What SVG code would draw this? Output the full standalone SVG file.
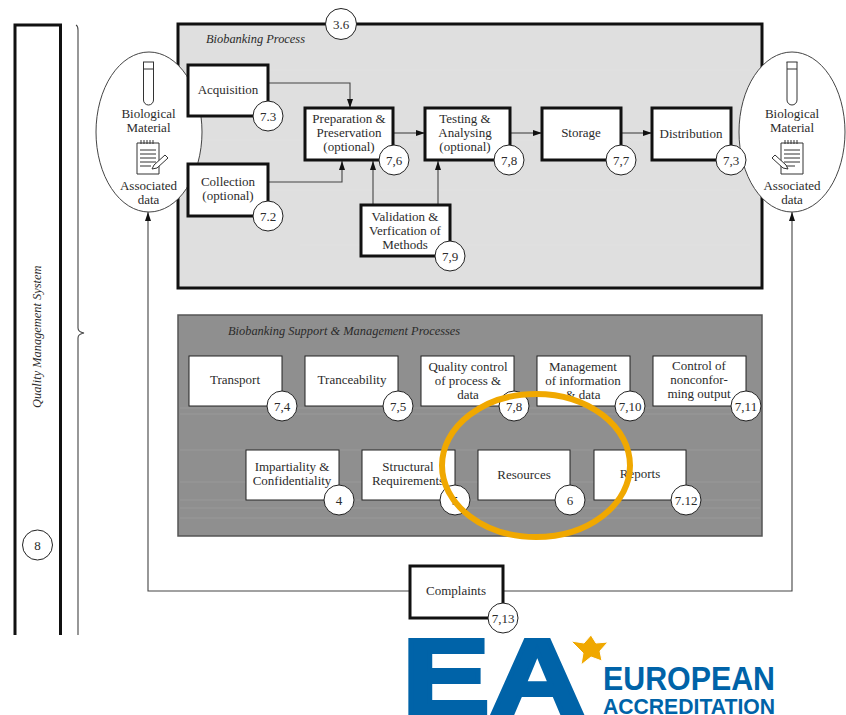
<svg xmlns="http://www.w3.org/2000/svg" width="846" height="715" viewBox="0 0 846 715">
<style>
text{font-family:"Liberation Serif","DejaVu Serif",serif;font-size:13px;fill:#2b2b2b;text-anchor:middle}
.t{font-style:italic;text-anchor:start;font-size:12.4px}
.n{fill:#fff;stroke:#111;stroke-width:3}
.s{fill:#fff;stroke:#222;stroke-width:1}
.c{fill:#fff;stroke:#222;stroke-width:1}
.l{fill:none;stroke:#444;stroke-width:1.1}
.e{fill:#fff;stroke:#444;stroke-width:1}
.k{fill:none;stroke:#333;stroke-width:1}
.w{fill:none;stroke:#fff;stroke-width:1;opacity:.1}
.b{font-family:"Liberation Sans",sans-serif;font-weight:700;fill:#0063a8;text-anchor:start}
</style>
<defs>
<marker id="a" markerUnits="userSpaceOnUse" markerWidth="10" markerHeight="8" refX="9" refY="4" orient="auto"><path d="M0 1L9 4L0 7z" fill="#111"/></marker>
<g id="tube"><path class="k" d="M-5.500 0H5.500M-5 0V38a5 5 0 0 0 10 0V0M-5 7H5"/></g>
<g id="pad"><path d="M-11 0H11V31H-11z" fill="#fff" stroke="#333"/><path class="k" d="M-7-3V1M-4-3V1M-1-3V1M2-3V1M5-3V1M-8 7H8M-8 11H8M-8 15H8M-8 19H8M-8 23H3"/></g>
</defs>
<g id="qms"><rect x="15" y="25" width="45.500" height="700" fill="#fff" stroke="#111" stroke-width="3"/>
<rect x="0" y="635" width="100" height="80" fill="#fff"/>
<text class="t" transform="translate(41 408) rotate(-90)">Quality Management System</text>
<circle class="c" cx="37.500" cy="545" r="15"/><text x="37.500" y="549.500">8</text></g>
<path id="brace" class="l" d="M76 25Q78 26 78 30V328Q78 332 84 333Q78 334 78 338V635"/>
<g id="process"><rect x="178" y="24" width="584" height="264" fill="#dfdfdf" stroke="#111" stroke-width="3"/>
<path class="w" d="M190 70H750M200 140H760M185 190H740M300 245H750"/>
<circle class="c" cx="341" cy="24" r="15.500"/><text x="341" y="28.500">3.6</text>
<text class="t" x="206" y="43">Biobanking Process</text></g>
<g id="support"><rect x="178" y="315" width="584" height="221" fill="#8f8f8f" stroke="#555" stroke-width="1.500"/>
<path class="w" d="M180 408H760M180 414H760M180 450H760M180 482H760M180 500H760M180 508H760M180 518H760"/>
<text class="t" x="228" y="335">Biobanking Support &amp; Management Processes</text></g>
<g id="material-left"><ellipse class="e" cx="149" cy="132" rx="53" ry="80"/><use href="#tube" x="148.500" y="62"/><text x="148.500" y="118">Biological</text><text x="148.500" y="132">Material</text><use href="#pad" x="148" y="143"/><path d="M154 165L165 155L168 158L157 168L152 169z" fill="#fff" stroke="#333"/><text x="148.500" y="190">Associated</text><text x="148.500" y="204">data</text></g>
<g id="material-right"><ellipse class="e" cx="792" cy="132" rx="53" ry="80"/><use href="#tube" x="792" y="62"/><text x="792" y="118">Biological</text><text x="792" y="132">Material</text><use href="#pad" x="792" y="143"/><path d="M786 165L775 155L772 158L783 168L788 169z" fill="#fff" stroke="#333"/><text x="792" y="190">Associated</text><text x="792" y="204">data</text></g>
<g id="connectors">
<path class="l" marker-end="url(#a)" d="M268 83H350V108"/>
<path class="l" marker-end="url(#a)" d="M268 182H342V161"/>
<path class="l" marker-end="url(#a)" d="M373 205V161"/>
<path class="l" marker-end="url(#a)" d="M438 205V161"/>
<path class="l" marker-end="url(#a)" d="M393 133H425"/>
<path class="l" marker-end="url(#a)" d="M510 133H542"/>
<path class="l" marker-end="url(#a)" d="M621 133H652"/>
<path class="l" marker-end="url(#a)" d="M410 591H148V212"/>
<path class="l" marker-end="url(#a)" d="M503 591H792V212"/>
</g>
<g id="acquisition"><rect class="n" x="188" y="65" width="80" height="51"/><text x="228" y="94">Acquisition</text><circle class="c" cx="268" cy="116" r="15"/><text x="268" y="121">7.3</text></g>
<g id="collection"><rect class="n" x="188" y="164" width="80" height="52"/><text x="228" y="186">Collection</text><text x="228" y="200">(optional)</text><circle class="c" cx="268" cy="216" r="15"/><text x="268" y="221">7.2</text></g>
<g id="preparation"><rect class="n" x="305" y="108" width="88" height="52"/><text x="349" y="123">Preparation &amp;</text><text x="349" y="137">Preservation</text><text x="349" y="151">(optional)</text><circle class="c" cx="394" cy="160" r="15"/><text x="394" y="165">7,6</text></g>
<g id="testing"><rect class="n" x="425" y="108" width="85" height="52"/><text x="465" y="123">Testing &amp;</text><text x="465" y="137">Analysing</text><text x="465" y="151">(optional)</text><circle class="c" cx="509" cy="160" r="15"/><text x="509" y="165">7,8</text></g>
<g id="storage"><rect class="n" x="542" y="108" width="79" height="52"/><text x="581" y="137">Storage</text><circle class="c" cx="621" cy="160" r="15"/><text x="621" y="165">7,7</text></g>
<g id="distribution"><rect class="n" x="652" y="108" width="79" height="52"/><text x="691" y="138">Distribution</text><circle class="c" cx="731" cy="160" r="15"/><text x="731" y="165">7,3</text></g>
<g id="validation"><rect class="n" x="361" y="205" width="89" height="51"/><text x="405" y="221">Validation &amp;</text><text x="405" y="235">Verfication of</text><text x="405" y="249">Methods</text><circle class="c" cx="450" cy="256" r="15"/><text x="450" y="261">7,9</text></g>
<g id="transport"><rect class="s" x="189" y="356" width="93" height="50"/><text x="235" y="384">Transport</text><circle class="c" cx="282" cy="406" r="15"/><text x="282" y="411">7,4</text></g>
<g id="traceability"><rect class="s" x="305" y="356" width="93" height="50"/><text x="352" y="384">Tranceability</text><circle class="c" cx="398" cy="406" r="15"/><text x="398" y="411">7,5</text></g>
<g id="quality"><rect class="s" x="421" y="356" width="93" height="50"/><text x="468" y="371">Quality control</text><text x="468" y="385">of process &amp;</text><text x="468" y="399">data</text><circle class="c" cx="514" cy="406" r="15"/><text x="514" y="411">7,8</text></g>
<g id="management"><rect class="s" x="537" y="356" width="93" height="50"/><text x="583" y="371">Management</text><text x="583" y="385">of information</text><text x="583" y="399">&amp; data</text><circle class="c" cx="630" cy="406" r="15"/><text x="630" y="411">7,10</text></g>
<g id="control"><rect class="s" x="653" y="356" width="93" height="50"/><text x="699" y="370">Control of</text><text x="699" y="384">nonconfor-</text><text x="699" y="398">ming output</text><circle class="c" cx="746" cy="406" r="15"/><text x="746" y="411">7,11</text></g>
<g id="impartiality"><rect class="s" x="246" y="450" width="93" height="50"/><text x="292" y="471">Impartiality &amp;</text><text x="292" y="485">Confidentiality</text><circle class="c" cx="339" cy="500" r="15"/><text x="339" y="505">4</text></g>
<g id="structural"><rect class="s" x="362" y="450" width="93" height="50"/><text x="408" y="471">Structural</text><text x="408" y="485">Requirements</text><circle class="c" cx="455" cy="500" r="15"/><text x="455" y="505">5</text></g>
<g id="resources"><rect class="s" x="478" y="450" width="92" height="50"/><text x="524" y="479">Resources</text><circle class="c" cx="570" cy="500" r="15"/><text x="570" y="505">6</text></g>
<g id="reports"><rect class="s" x="594" y="450" width="92" height="50"/><text x="640" y="478">Reports</text><circle class="c" cx="686" cy="500" r="15"/><text x="686" y="505">7.12</text></g>
<g id="complaints"><rect class="n" x="410" y="566" width="93" height="52"/><text x="456" y="595">Complaints</text><circle class="c" cx="503" cy="618" r="15"/><text x="503" y="623">7,13</text></g>
<ellipse id="highlight" cx="536" cy="465.500" rx="94" ry="71.500" fill="none" stroke="#f0a800" stroke-width="6"/>
<g id="logo">
<text class="b" x="402" y="714" textLength="183" lengthAdjust="spacingAndGlyphs" stroke="#0063a8" stroke-width="4" style="font-size:108px">EA</text>
<polygon points="591,635 596,643 608,642 600,651 602,661 591,657 581,665 583,653 571,641 584,643" fill="#f0a800" stroke="#fff" stroke-width="1"/>
<text class="b" x="603" y="690" textLength="172" lengthAdjust="spacingAndGlyphs" style="font-size:33px">EUROPEAN</text>
<text class="b" x="603" y="714" textLength="172" lengthAdjust="spacingAndGlyphs" style="font-size:22px">ACCREDITATION</text>
</g>
</svg>
